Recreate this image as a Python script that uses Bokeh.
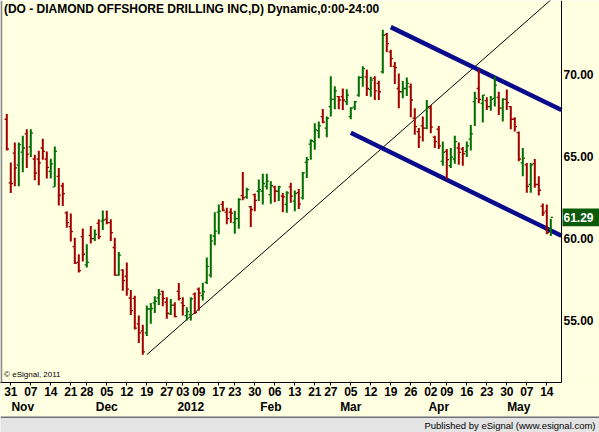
import pandas as pd
from bokeh.plotting import figure
from bokeh.models import (Range1d, LinearAxis, FixedTicker, NumeralTickFormatter,
                          Label, Span, ColumnDataSource)
from bokeh.layouts import column
from bokeh.embed import file_html
from bokeh.resources import INLINE
from bokeh.core.properties import value

# ---------------- data ----------------
holidays = ["2011-11-24", "2011-12-26", "2012-01-02", "2012-01-16", "2012-02-20", "2012-04-06"]
first_date = "2011-10-28"
last_date = "2012-05-15"

opens = [67.26, 63.39, 65.20, 64.48, 65.26, 66.37, 65.57, 64.84, 64.84, 65.51,
         64.84, 64.09, 63.15, 63.79, 63.20, 61.57, 60.73, 59.51, 58.55, 60.12,
         58.40, 60.20, 60.00, 60.93, 61.07, 61.17, 60.97, 59.46, 57.78, 58.08,
         57.71, 56.39, 56.37, 54.82, 54.39, 54.27, 55.72, 56.09, 56.39, 56.79,
         56.13, 55.42, 55.96, 56.79, 56.09, 55.32, 55.36, 56.63, 56.93, 56.53,
         57.34, 57.78, 60.16, 61.61, 62.08, 61.61, 61.61, 60.97, 61.21, 62.62,
         62.54, 61.94, 62.68, 62.88, 62.88, 63.19, 62.68, 63.15, 62.88, 62.58,
         62.08, 63.15, 62.28, 62.80, 62.48, 64.64, 65.75, 65.90, 66.57, 67.42,
         66.72, 68.03, 68.47, 68.63, 68.63, 68.33, 67.42, 67.99, 68.73, 69.80,
         69.84, 69.07, 69.74, 69.44, 70.14, 72.42, 71.35, 70.48, 69.13, 68.93,
         69.13, 69.23, 67.32, 66.51, 66.85, 66.72, 67.93, 66.17, 66.65, 64.70,
         65.30, 64.43, 64.84, 65.51, 65.45, 65.30, 66.05, 68.33, 69.13, 68.23,
         68.39, 68.03, 68.53, 68.59, 67.93, 68.47, 68.03, 67.26, 66.45, 64.60,
         64.49, 63.29, 64.56, 63.29, 61.97, 61.67, 60.56]
highs = [67.58, 64.63, 65.85, 65.85, 66.25, 66.65, 66.65, 65.10, 65.34, 66.07,
         65.30, 64.86, 65.60, 64.30, 63.39, 61.67, 61.53, 60.06, 59.05, 60.62,
         59.66, 60.76, 60.56, 61.17, 61.71, 61.71, 61.17, 60.06, 59.19, 58.14,
         58.55, 56.87, 56.53, 55.32, 54.76, 55.93, 56.09, 56.49, 56.93, 56.83,
         56.43, 56.33, 56.13, 57.30, 56.43, 55.83, 56.43, 56.73, 57.02, 57.32,
         58.85, 60.26, 61.61, 62.08, 62.28, 61.88, 61.85, 61.70, 62.45, 64.05,
         63.09, 61.98, 62.74, 63.59, 63.95, 63.95, 63.49, 63.22, 63.22, 62.78,
         62.88, 63.39, 62.92, 63.02, 64.05, 64.96, 66.05, 67.02, 67.12, 67.88,
         67.42, 69.88, 69.27, 68.67, 69.13, 69.08, 67.99, 68.37, 69.88, 70.48,
         70.28, 69.84, 69.88, 69.60, 72.70, 72.50, 71.49, 70.74, 70.04, 69.58,
         69.80, 69.44, 67.93, 66.72, 67.42, 68.43, 68.12, 66.25, 66.85, 65.90,
         65.45, 65.51, 66.25, 65.85, 65.57, 65.90, 66.91, 68.93, 70.28, 68.73,
         68.59, 68.67, 69.88, 68.93, 68.53, 69.07, 68.06, 67.38, 66.51, 65.51,
         64.60, 64.60, 64.84, 63.79, 62.14, 62.08, 61.21]
lows = [65.36, 62.78, 63.18, 63.18, 64.03, 64.30, 64.96, 63.55, 63.24, 64.80,
        63.65, 63.65, 63.15, 62.02, 61.98, 60.66, 59.82, 58.45, 57.94, 58.61,
        58.25, 59.70, 59.86, 59.96, 60.52, 60.87, 59.86, 57.74, 57.74, 56.83,
        56.53, 55.36, 54.47, 53.65, 52.94, 54.08, 54.82, 55.48, 55.96, 55.89,
        55.12, 55.36, 55.22, 56.23, 55.32, 55.02, 55.02, 55.42, 55.62, 56.23,
        57.24, 57.64, 59.59, 60.26, 61.67, 60.87, 60.97, 60.30, 60.60, 62.34,
        62.42, 60.71, 61.67, 62.28, 62.08, 62.98, 62.12, 62.22, 62.28, 61.61,
        61.57, 62.18, 61.67, 61.80, 62.38, 63.69, 64.80, 65.40, 66.11, 67.02,
        66.17, 67.42, 67.86, 67.86, 67.82, 68.12, 67.26, 67.82, 68.63, 69.23,
        68.67, 68.63, 68.43, 68.43, 70.04, 71.35, 70.44, 69.40, 67.93, 68.53,
        68.67, 67.38, 66.31, 65.51, 65.90, 66.65, 66.41, 65.51, 65.45, 64.43,
        63.59, 64.30, 64.56, 64.49, 64.43, 64.96, 65.36, 66.85, 68.23, 67.06,
        67.82, 67.78, 68.03, 67.52, 67.12, 67.82, 66.65, 66.51, 64.70, 63.79,
        62.79, 62.79, 63.09, 62.62, 61.37, 60.26, 60.16]
closes = [65.45, 63.35, 64.30, 65.72, 65.51, 65.14, 66.41, 63.99, 64.60, 65.30,
          64.33, 64.54, 65.30, 62.64, 62.73, 60.97, 60.42, 58.51, 58.05, 59.05,
          58.55, 60.00, 60.26, 60.12, 61.13, 60.97, 60.36, 57.78, 58.99, 57.44,
          56.93, 55.62, 54.56, 54.27, 53.11, 55.72, 55.75, 56.19, 56.63, 56.37,
          55.46, 55.96, 55.26, 56.37, 55.93, 55.56, 56.33, 55.52, 56.69, 56.77,
          58.31, 59.86, 60.46, 61.67, 61.73, 61.21, 61.55, 61.21, 62.38, 62.48,
          62.98, 61.77, 62.32, 62.98, 63.35, 63.49, 63.22, 62.88, 63.15, 62.54,
          62.78, 62.58, 62.74, 62.10, 64.00, 64.80, 65.95, 66.61, 66.85, 67.08,
          67.32, 68.47, 68.99, 68.43, 68.43, 68.73, 67.93, 68.33, 69.80, 70.34,
          69.13, 69.64, 68.99, 68.93, 72.36, 71.86, 70.95, 70.40, 68.93, 69.13,
          69.44, 68.43, 66.81, 66.17, 66.72, 68.03, 66.78, 65.90, 65.64, 65.24,
          64.80, 64.96, 65.90, 65.24, 65.16, 65.64, 66.37, 68.53, 68.47, 68.73,
          68.03, 68.47, 69.33, 67.93, 68.47, 68.27, 67.26, 66.81, 64.84, 64.90,
          63.18, 64.49, 63.29, 62.94, 61.57, 60.36, 61.29]

month_labels = ["Nov", "Dec", "2012", "Feb", "Mar", "Apr", "May"]
price_ticks = [55, 60, 65, 70]
last_price = 61.29

# drawn lines: anchor dates and prices
trend_dates = ["2011-12-19", "2012-05-21"]
trend_prices = [52.94, 75.37]
upper_dates = ["2012-03-19", "2012-05-21"]
upper_prices = [72.86, 67.67]
lower_dates = ["2012-03-05", "2012-05-21"]
lower_prices = [66.44, 60.01]

title = "(DO - DIAMOND OFFSHORE DRILLING INC,D) Dynamic,0:00-24:00"

# ---------------- styles ----------------
BG = "#FFFFE1"
UP = "#006E00"
DOWN = "#A00000"
CHANNEL = "#0A0A8C"
FONT = "Liberation Sans"

# trading-day index
all_days = [d for d in pd.bdate_range(first_date, "2012-06-29")
            if d.strftime("%Y-%m-%d") not in holidays]
day_index = {d.strftime("%Y-%m-%d"): i for i, d in enumerate(all_days)}
dates = [d for d in all_days if d <= pd.Timestamp(last_date)]
n = len(dates)
idx = list(range(n))

colors = [UP if c >= o else DOWN for o, c in zip(opens, closes)]
src = ColumnDataSource(dict(x=idx, o=opens, h=highs, l=lows, c=closes, col=colors,
                            xo=[i - 0.55 for i in idx], xc=[i + 0.55 for i in idx]))

# ticks
week_ticks, week_labels = [], {}
month_ticks, month_over = [], {}
mi = 0
for i in range(1, n):
    d, prev = dates[i], dates[i - 1]
    if d.isocalendar()[1] != prev.isocalendar()[1]:
        week_ticks.append(i)
        week_labels[i] = d.strftime("%d")
    if d.month != prev.month:
        month_ticks.append(i + 2)
        month_over[i + 2] = month_labels[mi]
        mi += 1

# 4 px per trading day, first bar at 6.3 px; price axis line at 561 px
PX = 4.0
x_start = -1.575
x_axis = x_start + 561 / PX
x_end = x_start + 599 / PX
y_top = 74.48
y_bot = 51.25
PY = 16.53  # px per dollar

p = figure(width=599, height=416, x_range=Range1d(x_start, x_end),
           y_range=Range1d(y_bot, y_top), output_backend="svg", toolbar_location=None,
           x_axis_location=None, y_axis_location=None,
           min_border_left=0, min_border_right=0, min_border_top=0, min_border_bottom=32,
           background_fill_color=BG, border_fill_color=BG, outline_line_color=None)
p.xgrid.visible = False
p.ygrid.visible = False

# right price axis (drawn at fixed location inside the canvas)
yax = LinearAxis(ticker=FixedTicker(ticks=price_ticks),
                 formatter=NumeralTickFormatter(format="0.00"), fixed_location=x_axis)
yax.major_tick_out = 0
yax.major_tick_in = 0
yax.minor_tick_line_color = None
yax.axis_line_color = "black"
yax.major_label_standoff = 2
yax.major_label_text_font = FONT
yax.major_label_text_font_size = "12px"
yax.major_label_text_font_style = "bold"
yax.major_label_text_color = "black"
p.add_layout(yax, "right")

# date axis
xax = LinearAxis(ticker=FixedTicker(ticks=week_ticks), major_label_overrides=week_labels,
                 bounds=(x_start, x_axis))
xax.major_tick_out = 3
xax.major_tick_in = 0
xax.minor_tick_line_color = None
xax.axis_line_color = "black"
xax.major_label_standoff = 1
xax.major_label_text_font = FONT
xax.major_label_text_font_size = "12px"
xax.major_label_text_font_style = "bold"
xax.major_label_text_color = "black"
p.add_layout(xax, "below")

# month axis
max_ = LinearAxis(ticker=FixedTicker(ticks=month_ticks), major_label_overrides=month_over)
max_.major_tick_out = 0
max_.major_tick_in = 0
max_.minor_tick_line_color = None
max_.major_tick_line_color = None
max_.axis_line_color = None
max_.major_label_standoff = 1
max_.major_label_text_font = FONT
max_.major_label_text_font_size = "12px"
max_.major_label_text_font_style = "bold"
max_.major_label_text_color = "black"
p.add_layout(max_, "below")

# left grey border
p.add_layout(Span(location=x_start + 0.2, dimension="height", line_color="#8C8C8C", line_width=2))


def clip_to_axis(xs, ys):
    """End a drawn line at the price-axis line."""
    (x0, x1), (y0, y1) = xs, ys
    if x1 > x_axis:
        y1 = y0 + (y1 - y0) * (x_axis - x0) / (x1 - x0)
        x1 = x_axis
    return [x0, x1], [y0, y1]


# trend line and channel
tx, ty = clip_to_axis([day_index[d] for d in trend_dates], trend_prices)
p.line(tx, ty, line_color="black", line_width=1)
ux, uy = clip_to_axis([day_index[d] for d in upper_dates], upper_prices)
p.line(ux, uy, line_color=CHANNEL, line_width=4.5, line_cap="butt")
lx, ly = clip_to_axis([day_index[d] for d in lower_dates], lower_prices)
p.line(lx, ly, line_color=CHANNEL, line_width=4.5, line_cap="butt")

# OHLC bars
p.segment(x0="x", y0="l", x1="x", y1="h", line_color="col", line_width=2, source=src)
p.segment(x0="xo", y0="o", x1="x", y1="o", line_color="col", line_width=1.3, source=src)
p.segment(x0="x", y0="c", x1="xc", y1="c", line_color="col", line_width=1.3, source=src)

# last price box
p.quad(left=[x_axis + 0.25], right=[x_end], top=[last_price + 9 / PY],
       bottom=[last_price - 9 / PY], fill_color="#0A5A0A", line_color=None)
p.text(x=[x_axis + 0.5], y=[last_price], text=[f"{last_price:.2f}"], text_baseline="middle",
       text_align="left", text_font=value(FONT), text_font_size="12px",
       text_font_style="bold", text_color="white")

# texts
p.add_layout(Label(x=x_start + 0.85, y=y_top - 0.08, text=title, text_baseline="top",
                   text_font=FONT, text_font_size="12px", text_font_style="bold",
                   text_color="black"))
p.add_layout(Label(x=x_start + 0.9, y=51.45, text="\u00a9 eSignal, 2011", text_baseline="bottom",
                   text_font=FONT, text_font_size="8px", text_color="black"))

# footer
f = figure(width=599, height=16, x_range=Range1d(0, 599), y_range=Range1d(0, 16),
           output_backend="svg", toolbar_location=None, x_axis_location=None,
           y_axis_location=None, min_border=0, background_fill_color="#E4E4E4",
           border_fill_color="#E4E4E4", outline_line_color=None)
f.xgrid.visible = False
f.ygrid.visible = False
f.line([0, 599], [15.5, 15.5], line_color="black", line_width=1)
f.text(x=[595], y=[7.5], text=["Published by eSignal (www.esignal.com)"], text_align="right",
       text_baseline="middle", text_font=value(FONT), text_font_size="9.5px", text_color="black")

layout = column(p, f, spacing=0)
open("out.html", "w").write(file_html(layout, INLINE))
